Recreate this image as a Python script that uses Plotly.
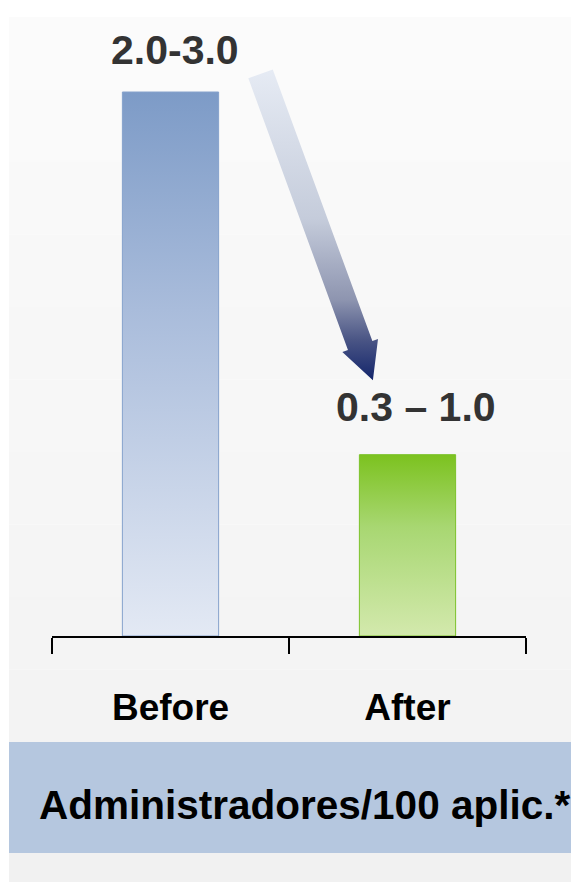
import plotly.graph_objects as go
import numpy as np

# ---- data ----
categories = ["Before", "After"]
values = [3.0, 1.0]
value_labels = ["2.0-3.0", "0.3 – 1.0"]
footer_label = "Administradores/100 aplic.*"

# ---- layout geometry (px, figure coordinates) ----
W, H = 571, 874
ML, MT = 44, 0
PLOT_W = 474
AXIS_Y = 628
MR = W - ML - PLOT_W
MB = H - AXIS_Y
PLOT_H = AXIS_Y - MT
X_RANGE = [-0.5, 1.5]
Y_RANGE = [0, 3.0 * PLOT_H / 544.0]
KX = PLOT_W / (X_RANGE[1] - X_RANGE[0])   # px per x unit
KY = PLOT_H / (Y_RANGE[1] - Y_RANGE[0])   # px per y unit

def px_to_paper(px, py):
    return (px - ML) / PLOT_W, (AXIS_Y - py) / PLOT_H

# ---- styles ----
BAR_HALF = 0.203
bar_styles = [
    dict(top="#7d9bc7", mid="#a9bcdb", bottom="#e3e9f4", edge="#86a2cc"),
    dict(top="#7cc21f", mid="#a8d772", bottom="#d3e9ad", edge="#7cc22a"),
]
label_shift = [(4, 42), (8, 48)]
FONT = "Liberation Sans, Arial, sans-serif"

fig = go.Figure()

# bars as gradient-filled rectangles
for i, (cat, v) in enumerate(zip(categories, values)):
    s = bar_styles[i]
    fig.add_trace(go.Scatter(
        x=[i - BAR_HALF, i + BAR_HALF, i + BAR_HALF, i - BAR_HALF, i - BAR_HALF],
        y=[0, 0, v, v, 0],
        mode="lines", fill="toself",
        fillgradient=dict(type="vertical",
                          colorscale=[[0, s["bottom"]], [0.6, s["mid"]], [1, s["top"]]]),
        line=dict(color=s["edge"], width=1),
        name=cat, showlegend=False, hoverinfo="skip",
    ))

# arrow from "before" label toward "after" label
ARROW_START = (0.38, 3.10)
ARROW_END = (0.854, 1.41)
SHAFT_HALF, HEAD_HALF, HEAD_LEN = 13, 19, 37
sx, sy = ARROW_START[0] * KX, ARROW_START[1] * KY
ex, ey = ARROW_END[0] * KX, ARROW_END[1] * KY
L = np.hypot(ex - sx, ey - sy)
ux, uy = (ex - sx) / L, (ey - sy) / L
nx, ny = -uy, ux
bx, by = ex - HEAD_LEN * ux, ey - HEAD_LEN * uy
pts = [
    (sx + SHAFT_HALF * nx, sy + SHAFT_HALF * ny),
    (bx + SHAFT_HALF * nx, by + SHAFT_HALF * ny),
    (bx + HEAD_HALF * nx, by + HEAD_HALF * ny),
    (ex, ey),
    (bx - HEAD_HALF * nx, by - HEAD_HALF * ny),
    (bx - SHAFT_HALF * nx, by - SHAFT_HALF * ny),
    (sx - SHAFT_HALF * nx, sy - SHAFT_HALF * ny),
]
pts.append(pts[0])
fig.add_trace(go.Scatter(
    x=[p[0] / KX for p in pts], y=[p[1] / KY for p in pts],
    mode="lines", fill="toself",
    fillgradient=dict(type="vertical",
                      colorscale=[[0, "#13256b"], [0.13, "#4a5585"], [0.26, "#8e95b0"],
                                  [0.52, "#c5ccdb"], [1, "#e6ebf4"]]),
    line=dict(width=0), showlegend=False, hoverinfo="skip", cliponaxis=False,
))

# value labels
annotations = []
for i, (v, t) in enumerate(zip(values, value_labels)):
    dx, dy = label_shift[i]
    annotations.append(dict(
        x=i, y=v, xref="x", yref="y", text=t, showarrow=False,
        xanchor="center", yanchor="middle", xshift=dx, yshift=dy,
        font=dict(family=FONT, size=41, color="#333333", weight="bold"),
    ))

# footer label in band
fx, fy = px_to_paper(296, 797)
annotations.append(dict(
    x=fx, y=fy, xref="paper", yref="paper", text=footer_label, showarrow=False,
    xanchor="center", yanchor="middle",
    font=dict(family=FONT, size=40.5, color="#000000", weight="bold"),
))

# background shapes
shapes = []
N_STRIPES = 10
top_c, bot_c = np.array([252, 252, 252]), np.array([243, 243, 243])
y_a, y_b = 9, 734
for k in range(N_STRIPES):
    p0 = y_a + (y_b - y_a) * k / N_STRIPES
    p1 = y_a + (y_b - y_a) * (k + 1) / N_STRIPES
    c = top_c + (bot_c - top_c) * (k + 0.5) / N_STRIPES
    x0, y0 = px_to_paper(1, p1)
    x1, y1 = px_to_paper(W + 2, p0)
    shapes.append(dict(type="rect", xref="paper", yref="paper", x0=x0, x1=x1, y0=y0, y1=y1,
                       fillcolor="rgb(%d,%d,%d)" % tuple(c.astype(int)), line=dict(width=0),
                       layer="below"))
x0, y0 = px_to_paper(1, H + 2)
x1, y1 = px_to_paper(W + 2, 845)
shapes.append(dict(type="rect", xref="paper", yref="paper", x0=x0, x1=x1, y0=y0, y1=y1,
                   fillcolor="#f1f1f1", line=dict(width=0), layer="below"))
x0, y0 = px_to_paper(1, 845)
x1, y1 = px_to_paper(W + 2, 734)
shapes.append(dict(type="rect", xref="paper", yref="paper", x0=x0, x1=x1, y0=y0, y1=y1,
                   fillcolor="#b5c7df", line=dict(width=0), layer="below"))

fig.update_layout(
    width=W, height=H,
    margin=dict(l=ML, r=MR, t=MT, b=MB, pad=0),
    paper_bgcolor="#ffffff", plot_bgcolor="rgba(0,0,0,0)",
    showlegend=False,
    annotations=annotations, shapes=shapes,
    xaxis=dict(
        range=X_RANGE, tickvals=[0, 1], ticktext=categories, ticks="",
        showline=True, linecolor="#000000", linewidth=2,
        showgrid=False, zeroline=False, fixedrange=True,
        ticklabelstandoff=38,
        tickfont=dict(family=FONT, size=37, color="#000000", weight="bold"),
        minor=dict(tickvals=[-0.5, 0.5, 1.5], ticks="outside", ticklen=16,
                   tickwidth=2, tickcolor="#000000", showgrid=False),
    ),
    yaxis=dict(range=Y_RANGE, visible=False, fixedrange=True),
)

fig.write_html("out.html")
